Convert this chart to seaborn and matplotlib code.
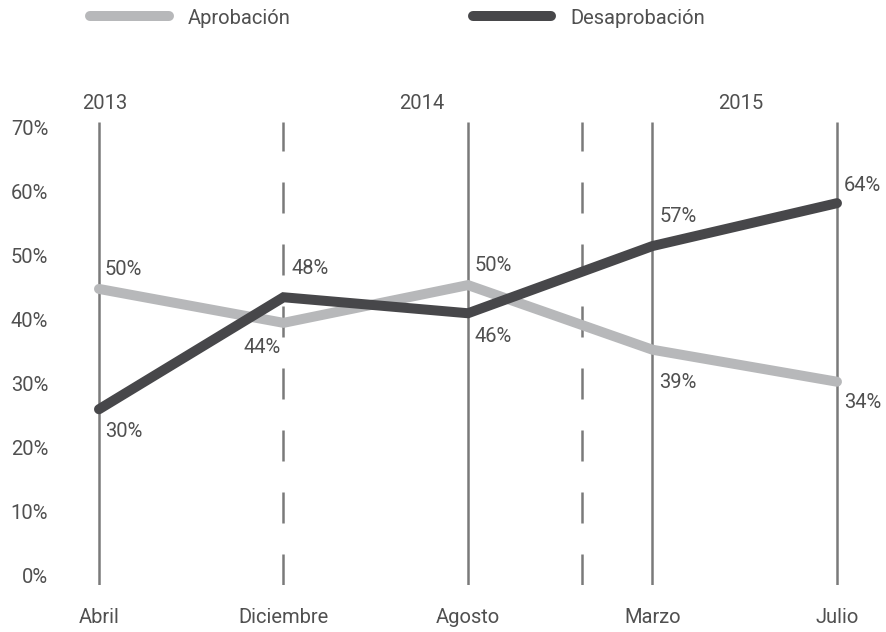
import pandas as pd
import seaborn as sns
import matplotlib.pyplot as plt

# data (line heights, labels as printed on the chart)
months = ['Abril', 'Diciembre', 'Agosto', 'Marzo', 'Julio']
aprobacion = [44.7, 39.4, 45.3, 35.2, 30.2]
desaprobacion = [25.9, 43.4, 40.9, 51.4, 58.1]
aprobacion_labels = ['50%', '44%', '50%', '39%', '34%']
desaprobacion_labels = ['30%', '48%', '46%', '57%', '64%']
years = ['2013', '2014', '2015']
year_pos = [0.03, 1.75, 3.48]
solid_months = [0, 2, 3, 4]
dashed_marks = [1, 2.62]
y_ticks = [0, 10, 20, 30, 40, 50, 60, 70]

df = pd.DataFrame({
    'x': list(range(len(months))) * 2,
    'valor': aprobacion + desaprobacion,
    'serie': ['Aprobación'] * len(months) + ['Desaprobación'] * len(months),
})

sns.set_style('white')
plt.rcParams['font.family'] = ['Roboto', 'DejaVu Sans']
text_color = '#505050'
grid_color = '#7a7a7a'
colors = {'Aprobación': '#b7b8ba', 'Desaprobación': '#47474a'}
fs = 14.5

fig = plt.figure(figsize=(8.86, 6.32), dpi=100)
ax = fig.add_axes([0.0701, 0.075, 0.9162, 0.7544])

# vertical guides
ax.vlines(solid_months, -1.6, 70.8, color=grid_color, lw=1.8, zorder=1)
ax.vlines(dashed_marks, -1.6, 70.8, color=grid_color, lw=1.8,
          linestyles=(0, (12.4, 12.4)), zorder=1)

sns.lineplot(data=df, x='x', y='valor', hue='serie', palette=colors,
             lw=7.2, solid_capstyle='round', solid_joinstyle='miter',
             legend=True, ax=ax, zorder=3)

# value labels
ap_off = [(6, -19, 'left'), (-3, 25, 'right'), (7, -20, 'left'), (7, 33, 'left'), (7, 21, 'left')]
de_off = [(6, 22, 'left'), (8, -29, 'left'), (7, 23, 'left'), (7, -30, 'left'), (7, -18, 'left')]
for i in range(len(months)):
    dx, dy, ha = ap_off[i]
    ax.annotate(aprobacion_labels[i], (i, aprobacion[i]), xytext=(dx, -dy),
                textcoords='offset pixels', ha=ha, va='center',
                fontsize=fs, color=text_color)
    dx, dy, ha = de_off[i]
    ax.annotate(desaprobacion_labels[i], (i, desaprobacion[i]), xytext=(dx, -dy),
                textcoords='offset pixels', ha=ha, va='center',
                fontsize=fs, color=text_color)

for yr, xp in zip(years, year_pos):
    ax.text(xp, 73.6, yr, ha='center', va='center', fontsize=fs,
            color=text_color, clip_on=False)

ax.set_xlim(-0.2, 4.2)
ax.set_ylim(-1.5, 73)
ax.set_xticks(range(len(months)))
ax.set_xticklabels(months)
ax.set_yticks(y_ticks)
ax.set_yticklabels([f'{v}%' for v in y_ticks])
ax.tick_params(axis='both', length=0, labelsize=fs, labelcolor=text_color)
ax.tick_params(axis='y', pad=10)
ax.tick_params(axis='x', pad=17)
ax.set_xlabel('')
ax.set_ylabel('')
sns.despine(ax=ax, left=True, bottom=True)

handles, labels = ax.get_legend_handles_labels()
ax.get_legend().remove()
fig.legend(handles, labels, loc='center left', bbox_to_anchor=(90 / 886, 1 - 18 / 632),
           ncol=2, frameon=False, fontsize=fs, labelcolor=text_color,
           handlelength=3.9, handletextpad=0.95, columnspacing=9.05, borderpad=0,
           borderaxespad=0)

fig.savefig('out.png', dpi=100)
